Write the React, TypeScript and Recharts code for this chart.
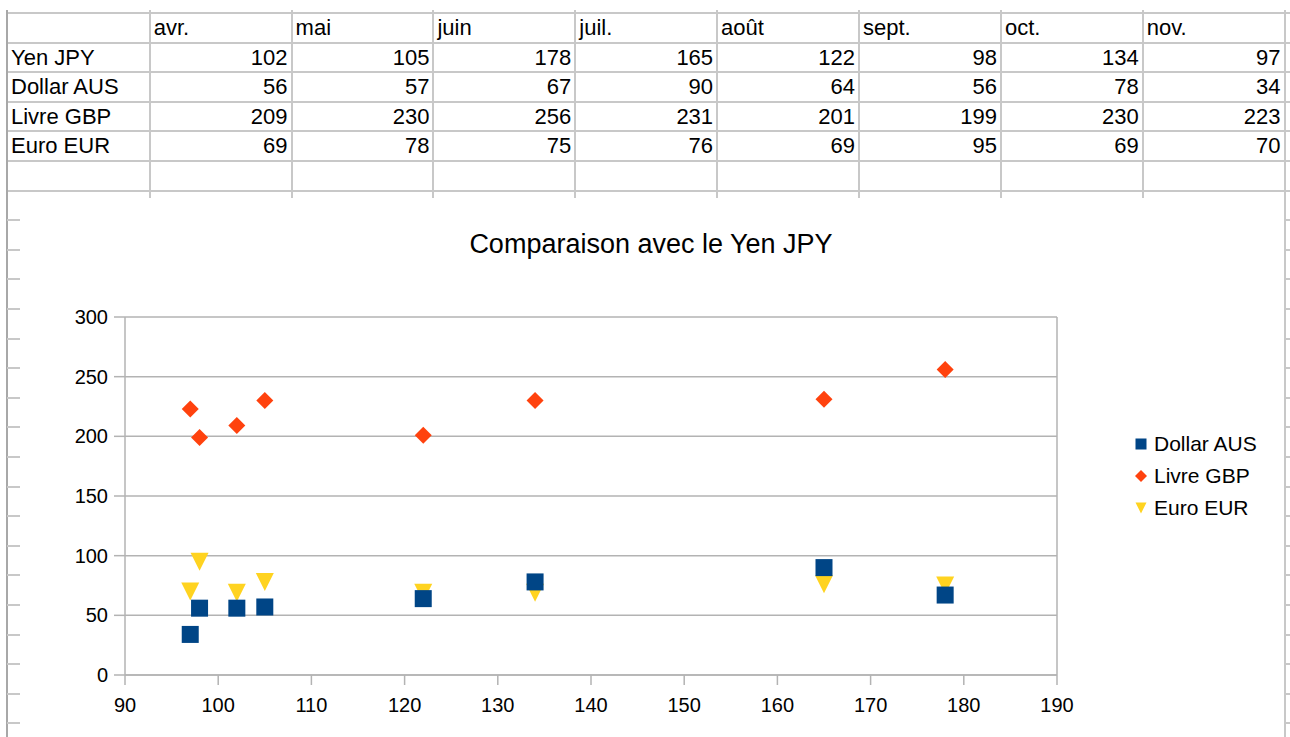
import {
  ScatterChart,
  Scatter,
  XAxis,
  YAxis,
  CartesianGrid,
  ReferenceLine,
} from "recharts";

const months = ["avr.", "mai", "juin", "juil.", "août", "sept.", "oct.", "nov."];
const yenJpy = [102, 105, 178, 165, 122, 98, 134, 97];
const dollarAus = [56, 57, 67, 90, 64, 56, 78, 34];
const livreGbp = [209, 230, 256, 231, 201, 199, 230, 223];
const euroEur = [69, 78, 75, 76, 69, 95, 69, 70];

const xTicks = [90, 100, 110, 120, 130, 140, 150, 160, 170, 180, 190];
const yTicks = [0, 50, 100, 150, 200, 250, 300];

const FONT = "'Liberation Sans', Arial, sans-serif";
const GRID = "#c8c8c8";
const AXIS = "#b3b3b3";

const tableRows = [
  { name: "Yen JPY", values: yenJpy },
  { name: "Dollar AUS", values: dollarAus },
  { name: "Livre GBP", values: livreGbp },
  { name: "Euro EUR", values: euroEur },
];

const series = [
  { name: "Dollar AUS", values: dollarAus, color: "#004586", kind: "square" },
  { name: "Livre GBP", values: livreGbp, color: "#ff420e", kind: "diamond" },
  { name: "Euro EUR", values: euroEur, color: "#ffd320", kind: "triangle" },
];

const toPoints = (ys: number[]) => yenJpy.map((x, i) => ({ x, y: ys[i] }));

// sheet geometry
const ROW_TOP = 13;
const ROW_H = 29.6;
const COL_X = [7, 149.7, 291.6, 433.4, 575.3, 717.1, 859, 1000.9, 1142.7, 1284.6];

const Marker = ({ kind, color, cx, cy, s }: any) => {
  const h = s / 2;
  if (kind === "square") {
    return <rect x={cx - h} y={cy - h} width={s} height={s} fill={color} />;
  }
  if (kind === "diamond") {
    return (
      <polygon
        points={`${cx},${cy - h} ${cx + h},${cy} ${cx},${cy + h} ${cx - h},${cy}`}
        fill={color}
      />
    );
  }
  return (
    <polygon
      points={`${cx - h},${cy - h} ${cx + h},${cy - h} ${cx},${cy + h}`}
      fill={color}
    />
  );
};

const makeShape = (kind: string, color: string, s: number) => (props: any) =>
  <Marker kind={kind} color={color} cx={props.cx} cy={props.cy} s={s} />;

const ChartLegend = () => (
  <div
    style={{
      position: "absolute",
      left: 1130,
      top: 428,
      fontFamily: FONT,
      fontSize: 21,
      color: "#000",
    }}
  >
    {series.map((s) => (
      <div key={s.name} style={{ display: "flex", alignItems: "center", height: 32 }}>
        <svg width={24} height={14}>
          <Marker kind={s.kind} color={s.color} cx={11} cy={7} s={s.kind === "diamond" ? 12 : 11} />
        </svg>
        <span>{s.name}</span>
      </div>
    ))}
  </div>
);

const Sheet = () => {
  const lines: any[] = [];
  for (let r = 0; r <= 6; r++) {
    lines.push(
      <div
        key={`h${r}`}
        style={{
          position: "absolute",
          left: 7,
          top: ROW_TOP + r * ROW_H - 1,
          width: 1283,
          height: 2,
          background: GRID,
        }}
      />
    );
  }
  COL_X.forEach((x, i) => {
    const full = i === 0 || i === COL_X.length - 1;
    lines.push(
      <div
        key={`v${i}`}
        style={{
          position: "absolute",
          left: x - 1,
          top: 10,
          width: 2,
          height: full ? 727 : 188,
          background: i === 0 ? "#a8a8a8" : GRID,
        }}
      />
    );
  });
  for (let r = 7; r < 26; r++) {
    const y = ROW_TOP + r * ROW_H - 1;
    if (y > 737) break;
    lines.push(
      <div key={`l${r}`} style={{ position: "absolute", left: 7, top: y, width: 13, height: 2, background: GRID }} />,
      <div key={`r${r}`} style={{ position: "absolute", left: 1285, top: y, width: 5, height: 2, background: GRID }} />
    );
  }

  const cell = (key: string, left: number, width: number, row: number, text: any, align: "left" | "right") => (
    <div
      key={key}
      style={{
        position: "absolute",
        left,
        top: ROW_TOP + row * ROW_H,
        width,
        height: ROW_H,
        lineHeight: `${ROW_H}px`,
        textAlign: align,
        padding: "0 4px",
        boxSizing: "border-box",
        fontFamily: FONT,
        fontSize: 22,
        color: "#000",
        whiteSpace: "nowrap",
      }}
    >
      {text}
    </div>
  );

  const cells: any[] = [];
  months.forEach((m, i) =>
    cells.push(cell(`m${i}`, COL_X[i + 1], COL_X[i + 2] - COL_X[i + 1], 0, m, "left"))
  );
  tableRows.forEach((row, r) => {
    cells.push(cell(`n${r}`, COL_X[0], COL_X[1] - COL_X[0], r + 1, row.name, "left"));
    row.values.forEach((v, i) =>
      cells.push(cell(`c${r}-${i}`, COL_X[i + 1], COL_X[i + 2] - COL_X[i + 1], r + 1, v, "right"))
    );
  });

  return (
    <>
      {lines}
      {cells}
    </>
  );
};

export default function App() {
  return (
    <div
      style={{
        position: "absolute",
        left: 0,
        top: 0,
        width: 1290,
        height: 737,
        background: "#fff",
        overflow: "hidden",
      }}
    >
      <Sheet />
      <div
        style={{
          position: "absolute",
          left: 0,
          top: 229,
          width: 1302,
          textAlign: "center",
          fontFamily: FONT,
          fontSize: 27,
          lineHeight: "30px",
          color: "#000",
        }}
      >
        Comparaison avec le Yen JPY
      </div>
      <div style={{ position: "absolute", left: 0, top: 190 }}>
        <ScatterChart
          width={1290}
          height={547}
          margin={{ top: 127, right: 233, bottom: 0, left: 0 }}
        >
          <CartesianGrid vertical={false} stroke={AXIS} strokeWidth={1.5} />
          <XAxis
            type="number"
            dataKey="x"
            domain={[90, 190]}
            ticks={xTicks}
            interval={0}
            height={62}
            tickSize={10}
            tickMargin={13}
            stroke={AXIS}
            strokeWidth={1.5}
            tick={{ fill: "#000", fontSize: 20, fontFamily: FONT }}
          />
          <YAxis
            type="number"
            dataKey="y"
            domain={[0, 300]}
            ticks={yTicks}
            interval={0}
            width={125}
            tickSize={11}
            tickMargin={6}
            stroke={AXIS}
            strokeWidth={1.5}
            tick={{ fill: "#000", fontSize: 20, fontFamily: FONT }}
          />
          <ReferenceLine x={190} stroke={AXIS} strokeWidth={1.5} />
          <Scatter
            name="Livre GBP"
            data={toPoints(livreGbp)}
            fill="#ff420e"
            shape={makeShape("diamond", "#ff420e", 17)}
            isAnimationActive={false}
          />
          <Scatter
            name="Euro EUR"
            data={toPoints(euroEur)}
            fill="#ffd320"
            shape={makeShape("triangle", "#ffd320", 18)}
            isAnimationActive={false}
          />
          <Scatter
            name="Dollar AUS"
            data={toPoints(dollarAus)}
            fill="#004586"
            shape={makeShape("square", "#004586", 17)}
            isAnimationActive={false}
          />
        </ScatterChart>
      </div>
      <ChartLegend />
    </div>
  );
}
